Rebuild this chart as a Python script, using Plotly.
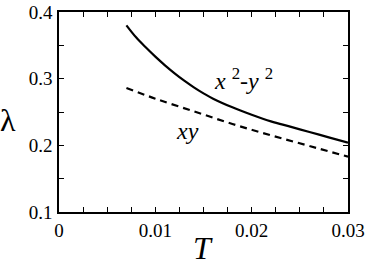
import plotly.graph_objects as go

# Data
T_vals = [0.007, 0.008, 0.009, 0.010, 0.011, 0.012, 0.013, 0.014, 0.015, 0.016,
          0.018, 0.020, 0.022, 0.024, 0.026, 0.028, 0.030]
lam_x2y2 = [0.380, 0.362, 0.347, 0.333, 0.320, 0.308, 0.297, 0.287, 0.278, 0.270,
            0.257, 0.246, 0.236, 0.228, 0.220, 0.212, 0.204]
T_xy = [0.007, 0.010, 0.014, 0.018, 0.022, 0.026, 0.030]
lam_xy = [0.286, 0.270, 0.251, 0.232, 0.215, 0.199, 0.183]

x_tickvals = [0, 0.0025, 0.005, 0.0075, 0.01, 0.0125, 0.015, 0.0175, 0.02,
              0.0225, 0.025, 0.0275, 0.03]
x_ticktext = ["0", "", "", "", "0.01", "", "", "", "0.02", "", "", "", "0.03"]
y_tickvals = [0.1, 0.15, 0.2, 0.25, 0.3, 0.35, 0.4]
y_ticktext = ["0.1", "", "0.2", "", "0.3", "", "0.4"]

FONT = "Liberation Serif, serif"

fig = go.Figure()
fig.add_trace(go.Scatter(x=T_vals, y=lam_x2y2, mode="lines",
                         line=dict(color="black", width=2.2, shape="spline"),
                         showlegend=False))
fig.add_trace(go.Scatter(x=T_xy, y=lam_xy, mode="lines",
                         line=dict(color="black", width=2.2, dash="7px,5px", shape="spline"),
                         showlegend=False))

fig.update_layout(
    width=368, height=272,
    margin=dict(l=59, r=20, t=12, b=60, autoexpand=False),
    plot_bgcolor="white", paper_bgcolor="white",
    font=dict(family=FONT, size=18, color="black"),
    xaxis=dict(range=[0, 0.03], tickvals=x_tickvals, ticktext=x_ticktext,
               ticks="inside", ticklen=5, tickwidth=1, tickcolor="black",
               showline=True, linecolor="black", linewidth=1.5, mirror="ticks",
               showgrid=False, zeroline=False, tickfont=dict(size=19, family=FONT),
               automargin=False, ticklabelstandoff=0),
    yaxis=dict(range=[0.1, 0.4], tickvals=y_tickvals, ticktext=y_ticktext,
               ticks="inside", ticklen=5, tickwidth=1, tickcolor="black",
               showline=True, linecolor="black", linewidth=1.5, mirror="ticks",
               showgrid=False, zeroline=False, tickfont=dict(size=19, family=FONT),
               automargin=False, ticklabelstandoff=1),
    annotations=[
        dict(x=0.0191, y=0.300, xref="x", yref="y", showarrow=False,
             text="<i>x</i> <sup>2</sup>-<i>y</i> <sup>2</sup>",
             font=dict(size=24, family=FONT)),
        dict(x=0.0133, y=0.221, xref="x", yref="y", showarrow=False,
             text="<i>xy</i>", font=dict(size=24, family=FONT)),
        dict(x=0.498, y=-0.18, xref="paper", yref="paper", showarrow=False,
             xanchor="center", yanchor="middle",
             text="<i>T</i>", font=dict(size=32, family=FONT)),
        dict(x=-0.175, y=0.46, xref="paper", yref="paper", showarrow=False,
             xanchor="center", yanchor="middle",
             text="λ", font=dict(size=32, family=FONT)),
    ],
)

fig.write_html("out.html", config={"displayModeBar": False},
               post_script="document.body.style.margin='0px';document.body.style.overflow='hidden';")
